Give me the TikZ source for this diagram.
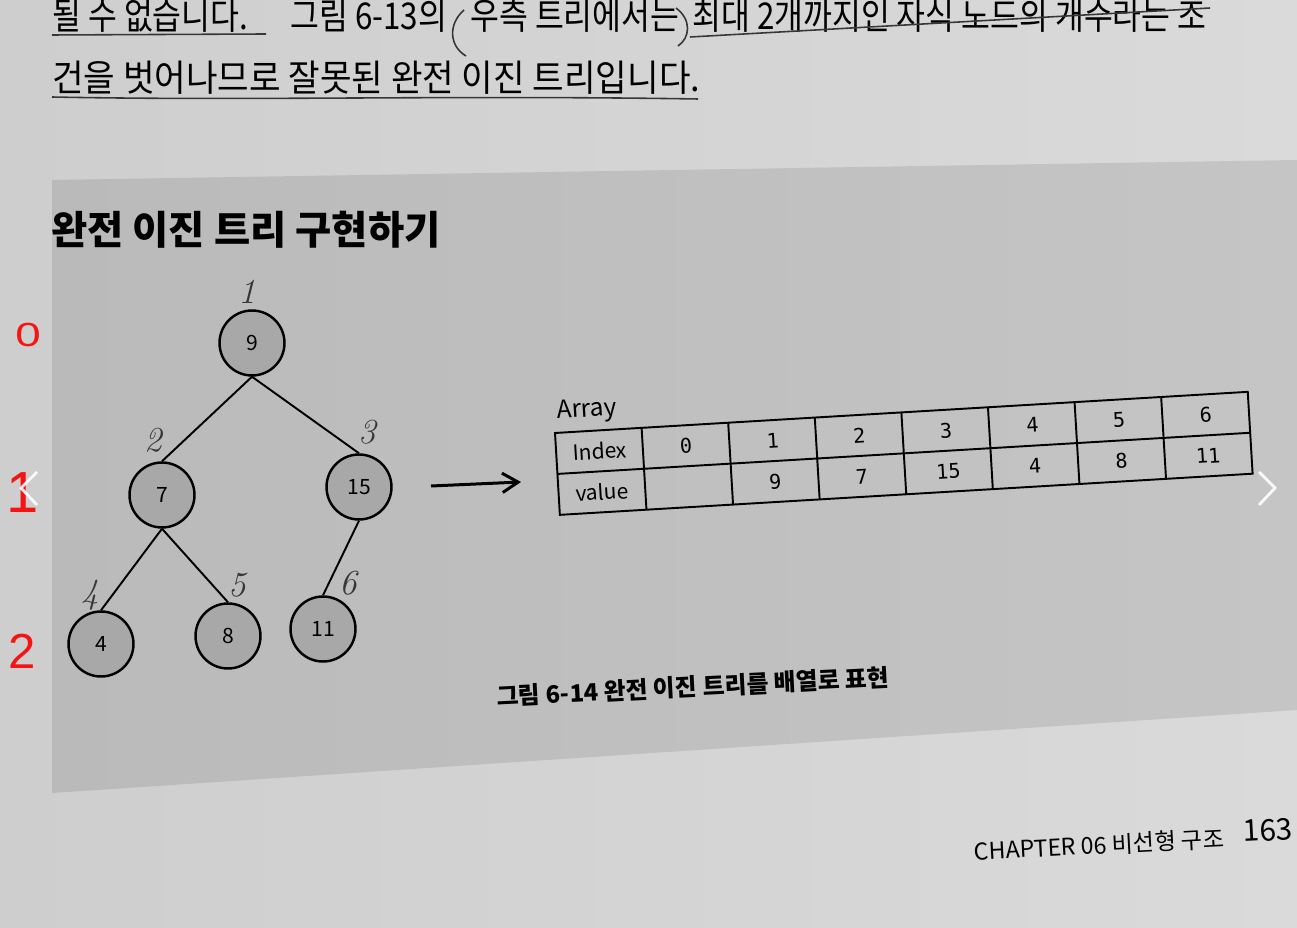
\documentclass[tikz,border=0pt]{standalone}
\usepackage{fontspec}
\usepackage{graphicx}
\newfontfamily\kr{Noto Sans CJK KR}
\newfontfamily\krn[FakeStretch=0.93]{Noto Sans CJK KR}
\newfontfamily\krm[FakeStretch=0.85]{Noto Sans CJK KR}
\newfontfamily\mono{DejaVu Sans Mono}
\newfontfamily\penfont{Liberation Sans}
\usetikzlibrary{arrows.meta,positioning}
\definecolor{paperL}{RGB}{206,206,206}
\definecolor{paperR}{RGB}{218,218,218}
\definecolor{boxL}{RGB}{186,186,186}
\definecolor{boxR}{RGB}{197,197,197}
\definecolor{nodegray}{RGB}{168,168,168}
\definecolor{pencil}{RGB}{55,55,55}
\definecolor{penred}{RGB}{245,20,20}

\begin{document}
\begin{tikzpicture}[x=0.02cm,y=-0.02cm,
  treenode/.style={circle,draw=black,line width=1.4pt,fill=nodegray,minimum size=1.3cm,inner sep=0pt,font=\kr\fontsize{12}{14}\selectfont},
  treeline/.style={line width=1.1pt},
  hand/.style={text=pencil,font=\itshape\fontsize{20}{22}\selectfont},
  redmark/.style={text=penred,inner sep=0pt},
  bodytext/.style={anchor=base west,inner sep=0pt,font=\krn\fontsize{21}{24}\selectfont},
  toptext/.style={anchor=base west,inner sep=0pt,font=\krm\fontsize{21}{24}\selectfont},
  pencilline/.style={draw=pencil,line width=0.9pt},
  tableline/.style={line width=1.1pt},
  cell/.style={font=\kr\fontsize{12}{14}\selectfont,inner sep=0pt,transform shape},
  numcell/.style={font=\mono\fontsize{11.5}{13}\selectfont,inner sep=0pt,transform shape}]
\useasboundingbox (0,0) rectangle (1297,928);
\clip (0,0) rectangle (1297,928);
\shade[left color=paperL,right color=paperR] (0,0) rectangle (1297,928);
\shade[left color=boxL,right color=boxR] (52,180) -- (1297,160) -- (1297,710) -- (52,793) -- cycle;

\node[toptext] (t1a) at (52,30) {될 수 없습니다.};
\node[toptext] (t1b) at (290,30) {그림 6-13의};
\node[toptext] (t1c) at (470,30) {우측 트리에서는};
\node[toptext] (t1d) at (692,30) {최대 2개까지인 자식 노드의 개수라는 조};
\node[bodytext] (t2) at (52,92) {건을 벗어나므로 잘못된 완전 이진 트리입니다.};
\draw[pencilline] (52,35) -- (266,34);
\draw[pencilline] (690,37) -- (1210,8);
\draw[pencilline] (52,97) .. controls (250,101) and (450,95) .. (698,99);
\draw[pencilline] (464,10) .. controls (448,24) and (449,46) .. (466,56);
\draw[pencilline] (676,8) .. controls (692,20) and (690,38) .. (678,46);

\node[anchor=west,inner sep=0pt,font=\kr\bfseries\fontsize{22.4}{25}\selectfont] (title) at (51,230) {완전 이진 트리 구현하기};

\node[treenode] (n9) at (252,343) {9};
\node[treenode] (n7) at (162,495) {7};
\node[treenode] (n15) at (359,487) {15};
\node[treenode] (n4) at (101,644) {4};
\node[treenode] (n8) at (228,636) {8};
\node[treenode] (n11) at (323,629) {11};
\draw[treeline] (n9.south) -- (n7.north);
\draw[treeline] (n9.south) -- (n15.north);
\draw[treeline] (n7.south) -- (n4.north);
\draw[treeline] (n7.south) -- (n8.north);
\draw[treeline] (n15.south) -- (n11.north);

\node[hand] (h1) at (247,292) {1};
\node[hand] (h2) at (153,440) {2};
\node[hand] (h3) at (367,432) {3};
\node[hand] (h4) at (90,595) {4};
\node[hand] (h5) at (237,585) {5};
\node[hand] (h6) at (348,583) {6};

\node[redmark,font=\penfont\fontsize{20}{22}\selectfont] (r0) at (28,335) {\scalebox{1.3}[0.95]{0}};
\node[redmark,font=\penfont\fontsize{33}{36}\selectfont] (r1) at (23,493) {1};
\node[redmark,font=\penfont\fontsize{28}{31}\selectfont] (r2) at (22,651) {2};

\draw[white,line width=1.6pt,opacity=0.9] (37,472) -- (21,488) -- (37,505);
\draw[white,line width=1.6pt,opacity=0.9] (1259,472) -- (1275,488) -- (1259,505);

\coordinate (arrS) at (431,486);
\coordinate (arrE) at (521,482);
\draw[line width=1.7pt,-{Straight Barb[length=9pt,width=11pt]}] (arrS) -- (arrE);

\begin{scope}[shift={(555,433)},rotate=3.4]
\node[cell,anchor=base west] (arr) at (3,-14) {\fontsize{14}{16}\selectfont Array};
\draw[tableline] (0,0) rectangle (694,82);
\draw[tableline] (0,41) -- (694,41);
\foreach \i in {1,...,7} \draw[tableline] (\i*86.75,0) -- (\i*86.75,82);
\node[cell] (lidx) at (43.4,20.5) {Index};
\node[cell] (lval) at (43.4,61.5) {value};
\foreach \n in {0,...,6} \node[numcell] (idx\n) at ({(\n+1.5)*86.75},20.5) {\n};
\foreach \v [count=\i] in {9,7,15,4,8,11} \node[numcell] (val\i) at ({(\i+1.5)*86.75},61.5) {\v};
\end{scope}

\node[rotate=2.9,inner sep=0pt,font=\kr\bfseries\fontsize{13.6}{16}\selectfont] (cap) at (693,687) {그림 6-14 완전 이진 트리를 배열로 표현};
\node[rotate=3,inner sep=0pt,font=\kr\fontsize{13.2}{15}\selectfont] (chap) at (1099,845) {CHAPTER 06 비선형 구조};
\node[rotate=3,inner sep=0pt,font=\kr\fontsize{17}{20}\selectfont] (page) at (1268,830) {163};
\end{tikzpicture}
\end{document}
